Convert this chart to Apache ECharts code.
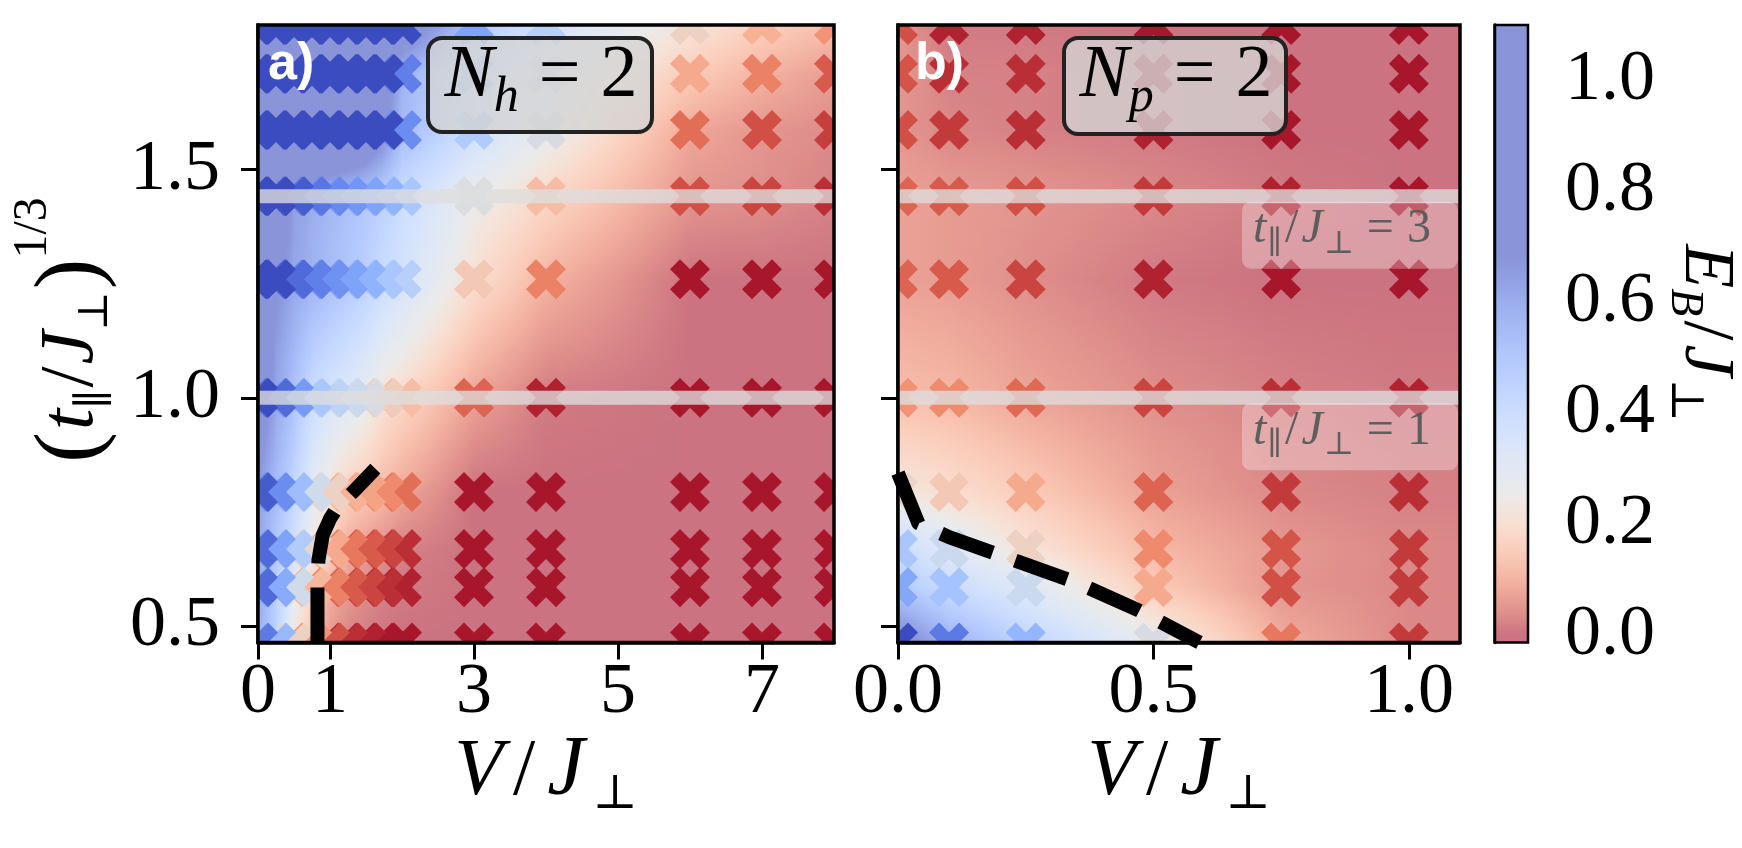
<!DOCTYPE html>
<html>
<head>
<meta charset="utf-8">
<script src="https://cdn.jsdelivr.net/npm/echarts@6.0.0/dist/echarts.min.js"></script>
<style>
html,body{margin:0;padding:0;background:#ffffff;}
#chart{width:1742px;height:848px;}
</style>
</head>
<body>
<div id="chart"></div>
<script>
// ---------------- data ----------------
// rows: (t_par/J_perp)^(1/3) for t = 0.1, 0.2, 0.3, 0.5, 1, 2, 3, 4, 5, 6
const rowY = [0.464, 0.585, 0.669, 0.794, 1.0, 1.26, 1.442, 1.587, 1.71, 1.817];

// panel a) N_h = 2
const colsA = [0, 0.25, 0.5, 0.75, 1, 1.25, 1.5, 1.75, 2, 3, 4, 6, 7, 8];
const valsA = [
  [0.59,0.44,0.22,0.12,0.05,0.02,0.01,0.00,0.00,0.00,0.00,0.00,0.00,0.00],
  [0.62,0.48,0.30,0.17,0.10,0.06,0.04,0.02,0.01,0.00,0.00,0.00,0.00,0.00],
  [0.62,0.50,0.38,0.24,0.15,0.09,0.06,0.04,0.02,0.00,0.00,0.00,0.00,0.00],
  [0.65,0.55,0.43,0.30,0.22,0.16,0.14,0.11,0.08,0.00,0.00,0.00,0.00,0.00],
  [0.80,0.62,0.52,0.40,0.35,0.31,0.27,0.21,0.18,0.07,0.01,0.00,0.00,0.00],
  [0.95,0.70,0.62,0.58,0.54,0.50,0.46,0.40,0.36,0.20,0.10,0.00,0.00,0.00],
  [0.95,0.85,0.65,0.60,0.56,0.53,0.50,0.46,0.40,0.26,0.18,0.05,0.04,0.02],
  [0.95,0.95,0.95,0.95,0.93,0.90,0.85,0.72,0.55,0.38,0.27,0.08,0.05,0.035],
  [0.95,0.95,0.95,0.95,0.95,0.93,0.90,0.78,0.58,0.40,0.29,0.15,0.10,0.06],
  [0.95,0.95,0.95,0.95,0.95,0.95,0.93,0.88,0.80,0.50,0.36,0.22,0.16,0.12]
];

// panel b) N_p = 2
const colsB = [0, 0.1, 0.25, 0.5, 0.75, 1.0];
const valsB = [
  [0.75,0.59,0.45,0.27,0.09,0.03],
  [0.49,0.41,0.31,0.15,0.05,0.03],
  [0.40,0.31,0.22,0.11,0.055,0.03],
  [0.23,0.20,0.15,0.07,0.03,0.02],
  [0.12,0.11,0.075,0.04,0.02,0.01],
  [0.07,0.06,0.04,0.01,0.00,0.00],
  [0.07,0.06,0.05,0.03,0.01,0.00],
  [0.05,0.03,0.02,0.01,0.00,0.00],
  [0.055,0.02,0.02,0.01,0.00,0.00],
  [0.05,0.01,0.01,0.00,0.00,0.00]
];

// dashed phase boundaries
const boundaryA = [[0.826,0.464],[0.826,0.60],[0.84,0.645],[0.90,0.70],[1.0,0.735],[1.076,0.754],[1.345,0.798],[1.63,0.845]];
const boundaryB = [[0.0,0.835],[0.04,0.725],[0.10,0.695],[0.20,0.655],[0.35,0.595],[0.47,0.535],[0.59,0.464]];

// reference lines t_par/J_perp = 1 and 3
const refLineY = [1.0, 1.442];
const refLineText = ['1', '3'];

// axes
const xRangeA = [0, 8];
const xRangeB = [0, 1.1];
const yRange = [0.464, 1.817];
const cbRange = [-0.014, 1.1];
const xTicksA = [0, 1, 3, 5, 7];
const xTicksB = [0, 0.5, 1.0];
const yTicks = [0.5, 1.0, 1.5];
const cbTicks = [0, 0.2, 0.4, 0.6, 0.8, 1.0];

// ---------------- colour scale ----------------
const CW = [[59,76,192],[77,104,215],[98,130,234],[119,154,247],[141,176,254],[163,194,255],[184,208,249],[204,217,238],[221,221,221],[236,211,197],[245,196,173],[247,177,148],[244,154,123],[234,125,98],[218,94,76],[196,60,58],[168,22,44]];
const NORM = [0, 0.255, 0.68];
const BG_ALPHA = 0.6;
function cw(p){
  p = Math.min(1, Math.max(0, p));
  const f = p * 16; const i = Math.min(15, Math.floor(f)); const t = f - i;
  return CW[i].map((c, k) => c + (CW[i+1][k] - c) * t);
}
function pos(v){
  if (v <= NORM[0]) return 1;
  if (v >= NORM[2]) return 0;
  if (v < NORM[1]) return 1 - 0.5 * (v - NORM[0]) / (NORM[1] - NORM[0]);
  return 0.5 - 0.5 * (v - NORM[1]) / (NORM[2] - NORM[1]);
}
function rgb(c){ return 'rgb(' + c.map(x => Math.round(x)).join(',') + ')'; }
function markerColor(v){ return rgb(cw(pos(v))); }
function bgColor(v){ return rgb(cw(pos(v)).map(x => 255 - BG_ALPHA * (255 - x))); }

// ---------------- series builders ----------------
function backgroundSeries(gi, cols, vals){
  const data = [];
  for (let i = 0; i < rowY.length - 1; i++)
    for (let j = 0; j < cols.length - 1; j++)
      data.push([cols[j], cols[j+1], rowY[i], rowY[i+1], vals[i][j], vals[i][j+1], vals[i+1][j], vals[i+1][j+1], j === cols.length - 2 ? 1 : 0]);
  return {
    type: 'custom', xAxisIndex: gi, yAxisIndex: gi, clip: true, z: 1, silent: true, data,
    renderItem(params, api){
      const pA = api.coord([api.value(0), api.value(2)]);
      const pB = api.coord([api.value(1), api.value(3)]);
      const v00 = api.value(4), v01 = api.value(5), v10 = api.value(6), v11 = api.value(7);
      const cs = params.coordSys;
      const left = pA[0];
      let right = pB[0];
      if (api.value(8)) right = Math.max(right, cs.x + cs.width);
      const bottom = pA[1], top = pB[1];
      const n = Math.max(1, Math.ceil((bottom - top) / 3));
      const h = (bottom - top) / n;
      const wData = pB[0] - pA[0], wAll = right - left;
      const children = [];
      for (let k = 0; k < n; k++){
        const t = (k + 0.5) / n;
        const vl = v00 + (v10 - v00) * t, vr = v01 + (v11 - v01) * t;
        const stops = [];
        const M = 6;
        for (let s = 0; s <= M; s++){
          const f = s / M;
          stops.push({offset: f * wData / wAll, color: bgColor(vl + (vr - vl) * f)});
        }
        if (wAll > wData + 0.5) stops.push({offset: 1, color: bgColor(vr)});
        children.push({
          type: 'rect',
          shape: {x: left - 0.4, y: bottom - (k + 1) * h - 0.6, width: wAll + 0.8, height: h + 1.2},
          style: {fill: {type: 'linear', x: 0, y: 0, x2: 1, y2: 0, colorStops: stops}}
        });
      }
      return {type: 'group', children};
    }
  };
}

const X_PTS = [[1,-2],[2,-1],[1,0],[2,1],[1,2],[0,1],[-1,2],[-2,1],[-1,0],[-2,-1],[-1,-2],[0,-1]];
const MARK_UNIT = 10;
function markerSeries(gi, cols, vals){
  const data = [];
  for (let i = rowY.length - 1; i >= 0; i--)
    for (let j = cols.length - 1; j >= 0; j--)
      data.push([cols[j], rowY[i], vals[i][j]]);
  return {
    type: 'custom', xAxisIndex: gi, yAxisIndex: gi, clip: true, z: 2, silent: true, data,
    renderItem(params, api){
      const c = api.coord([api.value(0), api.value(1)]);
      return {
        type: 'polygon',
        shape: {points: X_PTS.map(p => [c[0] + p[0] * MARK_UNIT, c[1] + p[1] * MARK_UNIT])},
        style: {fill: markerColor(api.value(2))}
      };
    }
  };
}

function refLineSeries(gi, xr, y){
  return {
    type: 'line', xAxisIndex: gi, yAxisIndex: gi, z: 3, silent: true, symbol: 'none', clip: true,
    data: [[xr[0], y], [xr[1], y]],
    lineStyle: {color: 'rgba(222,222,222,0.78)', width: 14, cap: 'butt'}
  };
}

function boundarySeries(gi, pts){
  return {
    type: 'line', xAxisIndex: gi, yAxisIndex: gi, z: 4, silent: true, symbol: 'none', clip: true,
    data: pts, smooth: false,
    lineStyle: {color: '#000', width: 14, type: [55, 24], cap: 'butt', join: 'round'}
  };
}

function frameSeries(gi, xr, yr, lw){
  return {
    type: 'custom', xAxisIndex: gi, yAxisIndex: gi, z: 6, clip: false, silent: true,
    data: [[xr[0], yr[0]]],
    renderItem(params){
      const c = params.coordSys;
      return {type: 'rect', shape: {x: c.x, y: c.y, width: c.width, height: c.height}, style: {fill: 'none', stroke: '#000', lineWidth: lw}};
    }
  };
}

function colorbarSeries(){
  return {
    type: 'custom', xAxisIndex: 2, yAxisIndex: 2, z: 1, clip: false, silent: true,
    data: [[0, 1, cbRange[0], cbRange[1]]],
    renderItem(params, api){
      const p0 = api.coord([api.value(0), api.value(2)]);
      const p1 = api.coord([api.value(1), api.value(3)]);
      const stops = [];
      const S = 80;
      for (let s = 0; s <= S; s++){
        const f = s / S;
        const v = api.value(3) - f * (api.value(3) - api.value(2));
        stops.push({offset: f, color: bgColor(v)});
      }
      return {type: 'rect', shape: {x: p0[0], y: p1[1], width: p1[0] - p0[0], height: p0[1] - p1[1]},
        style: {fill: {type: 'linear', x: 0, y: 0, x2: 0, y2: 1, colorStops: stops}}};
    }
  };
}

// ---------------- axes ----------------
const SERIF = "'Liberation Serif','DejaVu Serif',serif";
const SANS = "'Liberation Sans','DejaVu Sans',sans-serif";
const TICK = {length: 17, lineStyle: {color: '#000', width: 3}};
function xAxisCfg(gi, range, ticks, fmt, show){
  return {
    type: 'value', gridIndex: gi, min: range[0], max: range[1], show: show !== false,
    axisLine: {show: true, lineStyle: {color: '#000', width: 3.5}},
    splitLine: {show: false},
    axisTick: Object.assign({show: true, customValues: ticks}, TICK),
    axisLabel: {show: true, customValues: ticks, formatter: fmt, margin: 15, color: '#000',
      fontSize: 72, fontFamily: SERIF, showMinLabel: true, showMaxLabel: true}
  };
}
function yAxisCfg(gi, range, ticks, showLabel, position, margin){
  return {
    type: 'value', gridIndex: gi, min: range[0], max: range[1], position: position || 'left',
    axisLine: {show: true, lineStyle: {color: '#000', width: 3.5}},
    splitLine: {show: false},
    axisTick: Object.assign({show: true, customValues: ticks}, TICK),
    axisLabel: {show: showLabel, customValues: ticks, formatter: v => v.toFixed(1), margin: margin || 38,
      color: '#000', fontSize: 72, fontFamily: SERIF, showMinLabel: true, showMaxLabel: true}
  };
}

const option = {
  animation: false,
  backgroundColor: '#ffffff',
  grid: [
    {left: 258, top: 25, width: 576, height: 617.5, outerBoundsMode: 'none'},
    {left: 898, top: 25, width: 562, height: 617.5, outerBoundsMode: 'none'},
    {left: 1495, top: 25, width: 33, height: 617.5, outerBoundsMode: 'none'}
  ],
  xAxis: [
    xAxisCfg(0, xRangeA, xTicksA, v => String(v)),
    xAxisCfg(1, xRangeB, xTicksB, v => v.toFixed(1)),
    {type: 'value', gridIndex: 2, min: 0, max: 1, show: false}
  ],
  yAxis: [
    yAxisCfg(0, yRange, yTicks, true, 'left', 38),
    yAxisCfg(1, yRange, yTicks, false, 'left', 38),
    yAxisCfg(2, cbRange, cbTicks, true, 'right', 37)
  ],
  series: [
    backgroundSeries(0, colsA, valsA),
    backgroundSeries(1, colsB, valsB),
    colorbarSeries(),
    markerSeries(0, colsA, valsA),
    markerSeries(1, colsB, valsB),
    refLineSeries(0, xRangeA, refLineY[0]),
    refLineSeries(0, xRangeA, refLineY[1]),
    refLineSeries(1, xRangeB, refLineY[0]),
    refLineSeries(1, xRangeB, refLineY[1]),
    boundarySeries(0, boundaryA),
    boundarySeries(1, boundaryB),
    frameSeries(0, xRangeA, yRange, 3.5),
    frameSeries(1, xRangeB, yRange, 3.5),
    frameSeries(2, [0, 1], cbRange, 2.5)
  ]
};

const chart = echarts.init(document.getElementById('chart'), null, {renderer: 'canvas'});
chart.setOption(option);

// ---------------- text annotations ----------------
const mctx = document.createElement('canvas').getContext('2d');
function tokFont(t){ return (t.i ? 'italic ' : '') + (t.b ? 'bold ' : '') + t.size + 'px ' + (t.fam || SERIF); }
function mathGroup(tokens, color, x, y, anchor, rotation){
  let cx = 0; const kids = [];
  tokens.forEach(t => {
    cx += (t.dx || 0);
    const f = tokFont(t);
    kids.push({type: 'text', z: 101, x: cx, y: (t.dy || 0) - 0.34 * t.size,
      style: {text: t.s, font: f, fill: color, align: 'left', verticalAlign: 'middle', textAlign: 'left', textVerticalAlign: 'middle'}});
    mctx.font = f; cx += mctx.measureText(t.s).width;
  });
  const off = anchor === 'center' ? -cx / 2 : 0;
  kids.forEach(k => { k.x += off; });
  return {type: 'group', x: x, y: y, rotation: rotation || 0, z: 101, children: kids};
}

const xLabel = [{s:'V',i:1,size:80},{s:'/',size:80,dx:10},{s:'J',i:1,size:84,dx:12},{s:'⊥',size:48,dx:8,dy:12}];
const yLabel = [{s:'(',size:92,dy:6},{s:'t',i:1,size:76,dx:2},{s:'∥',size:42,dy:12},{s:'/',size:76,dx:2},
  {s:'J',i:1,size:76,dx:2},{s:'⊥',size:42,dy:12},{s:')',size:92,dy:6,dx:2},{s:'1/3',size:48,dy:-48,dx:0}];
const cbLabel = [{s:'E',i:1,size:72},{s:'B',i:1,size:46,dy:12},{s:'/',size:72,dx:4},{s:'J',i:1,size:72,dx:4},{s:'⊥',size:46,dy:12,dx:2}];
const nhLabel = [{s:'N',i:1,size:74},{s:'h',i:1,size:50,dy:13},{s:'=',size:74,dx:20},{s:'2',size:74,dx:20}];
const npLabel = [{s:'N',i:1,size:74},{s:'p',i:1,size:50,dy:13},{s:'=',size:74,dx:20},{s:'2',size:74,dx:20}];
function refLabel(k){
  return [{s:'t',i:1,size:48},{s:'∥',size:32,dy:9,dx:1},{s:'/',size:48,dx:3},{s:'J',i:1,size:48,dx:3},
    {s:'⊥',size:32,dy:9,dx:1},{s:'=',size:48,dx:13},{s:k,size:48,dx:13}];
}

const gA = chart.convertToPixel({gridIndex: 0}, [xRangeA[0], yRange[1]]);
const gA2 = chart.convertToPixel({gridIndex: 0}, [xRangeA[1], yRange[0]]);
const gB = chart.convertToPixel({gridIndex: 1}, [xRangeB[0], yRange[1]]);
const gB2 = chart.convertToPixel({gridIndex: 1}, [xRangeB[1], yRange[0]]);

const graphics = [];
// panel letters
graphics.push({type: 'text', x: gA[0] + 10, y: 83 - 0.35 * 52, z: 101,
  style: {text: 'a)', font: 'bold 52px ' + SANS, fill: '#ffffff', align: 'left', verticalAlign: 'middle', textAlign: 'left', textVerticalAlign: 'middle'}});
graphics.push({type: 'text', x: gB[0] + 17, y: 83 - 0.35 * 52, z: 101,
  style: {text: 'b)', font: 'bold 52px ' + SANS, fill: '#ffffff', align: 'left', verticalAlign: 'middle', textAlign: 'left', textVerticalAlign: 'middle'}});

// N boxes
graphics.push({type: 'rect', z: 99, shape: {x: 428, y: 38, width: 224, height: 94, r: 14},
  style: {fill: 'rgba(211,211,211,0.8)', stroke: '#222', lineWidth: 4}});
graphics.push(mathGroup(nhLabel, '#000', 541, 102, 'center'));
graphics.push({type: 'rect', z: 99, shape: {x: 1064, y: 38, width: 222, height: 96, r: 14},
  style: {fill: 'rgba(211,211,211,0.8)', stroke: '#222', lineWidth: 4}});
graphics.push(mathGroup(npLabel, '#000', 1176, 102, 'center'));

// reference-line labels in panel b
refLineY.forEach((y, idx) => {
  const p = chart.convertToPixel({gridIndex: 1}, [xRangeB[1], y]);
  graphics.push({type: 'rect', z: 98, shape: {x: p[0] - 218, y: p[1] + 5.5, width: 216, height: 67, r: 9},
    style: {fill: 'rgba(255,255,255,0.3)'}});
  graphics.push(mathGroup(refLabel(refLineText[idx]), 'rgba(85,90,90,0.95)', p[0] - 207, p[1] + 50, 'left'));
});

// axis titles
graphics.push(mathGroup(xLabel, '#000', (gA[0] + gA2[0]) / 2, 800, 'center'));
graphics.push(mathGroup(xLabel, '#000', (gB[0] + gB2[0]) / 2, 800, 'center'));
graphics.push(mathGroup(yLabel, '#000', 98, 330, 'center', Math.PI / 2));
graphics.push(mathGroup(cbLabel, '#000', 1680, 333, 'center', -Math.PI / 2));

chart.setOption({graphic: graphics});
</script>
</body>
</html>
